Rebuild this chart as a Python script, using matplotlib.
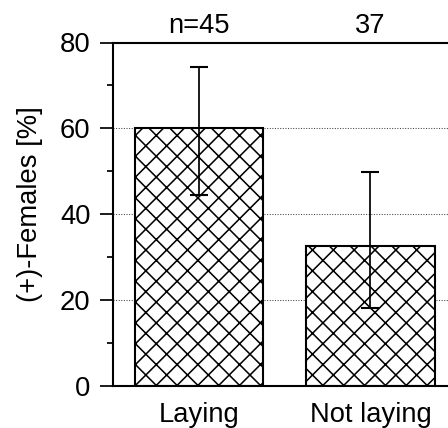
import matplotlib
matplotlib.use("Agg")
import matplotlib.pyplot as plt
from matplotlib.ticker import MultipleLocator

categories = ["Laying", "Not laying"]
values = [60.0, 32.5]
err_low = [15.5, 14.3]
err_high = [14.4, 17.4]
n_labels = ["n=45", "37"]
yticks = [0, 20, 40, 60, 80]

plt.rcParams['font.family'] = 'Liberation Sans'
plt.rcParams['hatch.color'] = 'black'
plt.rcParams['hatch.linewidth'] = 0.9

DPI = 125
fig = plt.figure(figsize=(448 / DPI, 428 / DPI), dpi=DPI, facecolor='white')
ax = fig.add_axes([113 / 448, 42 / 428, 1 - 113 / 448, (386 - 42.5) / 428])

x = list(range(len(categories)))
ax.bar(x, values, width=0.75, color='white', edgecolor='black',
       linewidth=1.2, hatch='xx', zorder=2)
ax.errorbar(x, values, yerr=[err_low, err_high], fmt='none', ecolor='black',
            elinewidth=1.0, capsize=5.4, capthick=1.2, zorder=3)

ax.set_xlim(-0.5035, 1.453)
ax.set_ylim(0, 80)
ax.set_yticks(yticks)
ax.yaxis.set_minor_locator(MultipleLocator(10))
ax.set_xticks(x)
ax.set_xticklabels(categories)

ax.tick_params(axis='y', which='major', length=7.5, width=1.0, pad=5.5, labelsize=15.8)
ax.tick_params(axis='y', which='minor', length=3.5, width=1.0)
ax.tick_params(axis='x', which='both', length=0, pad=9, labelsize=15.8)

for s in ['left', 'top', 'bottom']:
    ax.spines[s].set_linewidth(1.2)
ax.spines['right'].set_visible(False)

ax.set_axisbelow(True)
ax.yaxis.grid(True, which='major', linestyle=(0, (1, 1.5)), color='#444444', linewidth=0.6)

ax.set_ylabel("(+)-Females [%]", fontsize=15.8)
ax.yaxis.set_label_coords(-0.21, 0.53)

for xi, lab in zip(x, n_labels):
    ax.annotate(lab, xy=(xi, 1.0), xycoords=('data', 'axes fraction'),
                xytext=(0, 5.5), textcoords='offset points',
                ha='center', va='baseline', fontsize=15.8)

fig.savefig("out.png", dpi=DPI, facecolor='white')
